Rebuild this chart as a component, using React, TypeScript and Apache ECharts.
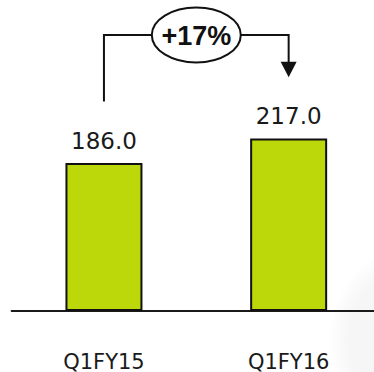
import React, { useEffect, useRef } from "react";
import * as echarts from "echarts";

// Quarterly values shown as bars
const categories: string[] = ["Q1FY15", "Q1FY16"];
const values: number[] = [186.0, 217.0];

const BAR_COLOR = "#bcd80a";
const INK = "#111111";

export default function App() {
  const ref = useRef<HTMLDivElement | null>(null);

  useEffect(() => {
    if (!ref.current) return;
    const chart = echarts.init(ref.current, null, { renderer: "svg" });

    chart.setOption({
      animation: false,
      backgroundColor: "#ffffff",
      grid: { left: 11.6, width: 369.4, top: 112.2, bottom: 59.3 },
      xAxis: {
        type: "category",
        data: categories,
        boundaryGap: true,
        axisLine: { show: true, lineStyle: { color: "#1a1a1a", width: 2 } },
        axisTick: { show: false },
        axisLabel: {
          margin: 40,
          fontSize: 21,
          color: "#1a1a1a",
          fontFamily: "DejaVu Sans",
        },
      },
      yAxis: {
        type: "value",
        min: 0,
        max: 250,
        show: false,
        splitLine: { show: false },
      },
      series: [
        {
          type: "bar",
          data: values,
          barWidth: 77,
          itemStyle: { color: BAR_COLOR, borderColor: INK, borderWidth: 2 },
          label: {
            show: true,
            position: "top",
            distance: 11,
            fontSize: 23,
            color: "#1a1a1a",
            fontFamily: "DejaVu Sans",
            formatter: (p: any) => Number(p.value).toFixed(1),
          },
        },
      ],
    });

    // Growth connector between the two bars
    const x0 = chart.convertToPixel({ xAxisIndex: 0 }, categories[0]) as number;
    const x1 = chart.convertToPixel({ xAxisIndex: 0 }, categories[1]) as number;
    const growth = Math.round((values[1] / values[0] - 1) * 100);
    const growthText = (growth >= 0 ? "+" : "") + growth + "%";
    const cx = (x0 + x1) / 2;
    const lineY = 35;
    const rx = 44.5;
    const ry = 27.5;
    const stroke = { stroke: INK, lineWidth: 2 };

    chart.setOption({
      graphic: [
        {
          // soft grey backdrop shape in the lower right corner
          type: "circle",
          z: -10,
          silent: true,
          shape: { cx: 428, cy: 340, r: 98 },
          style: {
            fill: new echarts.graphic.RadialGradient(0.5, 0.5, 0.5, [
              { offset: 0, color: "#f4f4f4" },
              { offset: 0.8, color: "#f6f6f6" },
              { offset: 1, color: "#fefefe" },
            ]),
          },
        },
        {
          type: "polyline",
          shape: {
            points: [
              [x0, 101.5],
              [x0, lineY],
              [cx - rx, lineY],
            ],
          },
          style: { ...stroke, fill: null },
        },
        {
          type: "polyline",
          shape: {
            points: [
              [cx + rx, lineY],
              [x1, lineY],
              [x1, 63],
            ],
          },
          style: { ...stroke, fill: null },
        },
        {
          type: "polygon",
          shape: {
            points: [
              [x1 - 8, 61.7],
              [x1 + 8, 61.7],
              [x1, 77.3],
            ],
          },
          style: { fill: INK },
        },
        {
          type: "ellipse",
          shape: { cx, cy: lineY, rx, ry },
          style: { fill: "#ffffff", stroke: INK, lineWidth: 2 },
        },
        {
          type: "text",
          x: cx,
          y: lineY + 0.5,
          style: {
            text: growthText,
            fill: INK,
            fontSize: 27,
            fontWeight: "bold",
            fontFamily: "Liberation Sans",
            align: "center",
            verticalAlign: "middle",
          },
        },
      ],
    });

    return () => chart.dispose();
  }, []);

  return (
    <div
      style={{
        position: "fixed",
        left: 0,
        top: 0,
        width: 374,
        height: 372,
        overflow: "hidden",
      }}
    >
      <div ref={ref} style={{ width: 390, height: 372 }} />
    </div>
  );
}
